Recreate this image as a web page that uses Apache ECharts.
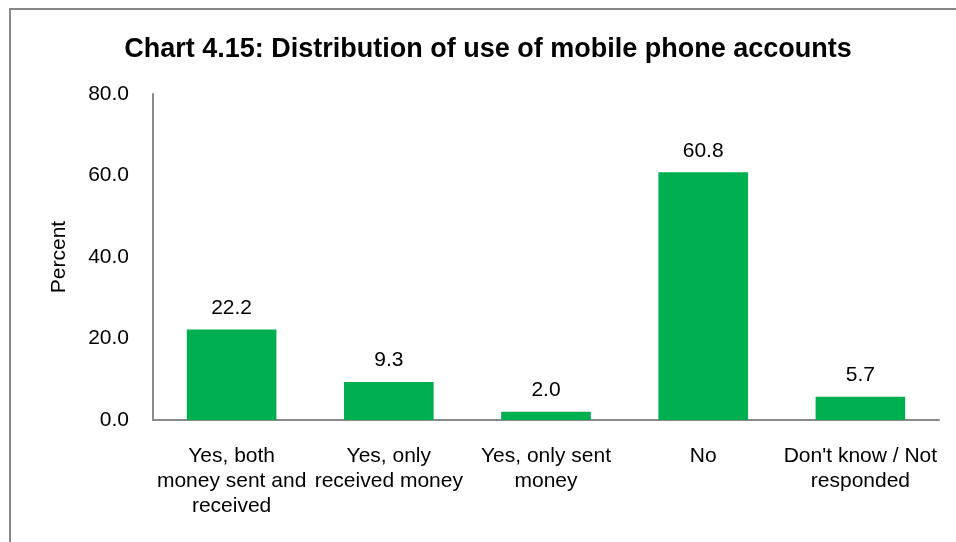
<!DOCTYPE html>
<html>
<head>
<meta charset="utf-8">
<style>
  html, body { margin: 0; padding: 0; background: #ffffff; }
  #chart { width: 956px; height: 542px; }
</style>
<script src="https://cdn.jsdelivr.net/npm/echarts@6/dist/echarts.min.js"></script>
</head>
<body>
<div id="chart"></div>
<script>
// Categories of mobile phone account use
const categories = [
  'Yes, both\nmoney sent and\nreceived',
  'Yes, only\nreceived money',
  'Yes, only sent\nmoney',
  'No',
  "Don't know / Not\nresponded"
];
// Share of respondents, percent
const percentValues = [22.2, 9.3, 2.0, 60.8, 5.7];
// Y-axis ticks
const yTicks = [0, 20, 40, 60, 80];

const FONT = '"Liberation Sans", Arial, sans-serif';
const chart = echarts.init(document.getElementById('chart'), null, { renderer: 'canvas' });

chart.setOption({
  animation: false,
  backgroundColor: '#ffffff',
  textStyle: { fontFamily: FONT },
  graphic: [{
    type: 'rect',
    shape: { x: 10, y: 9, width: 980, height: 560 },
    style: { fill: 'none', stroke: '#878787', lineWidth: 2 },
    silent: true
  }],
  title: {
    text: 'Chart 4.15: Distribution of use of mobile phone accounts',
    left: 483,
    textAlign: 'center',
    top: 31,
    textStyle: { fontFamily: FONT, fontWeight: 'bold', fontSize: 27, color: '#000000' }
  },
  grid: { left: 153, right: 17, top: 94, bottom: 122, containLabel: false },
  xAxis: {
    type: 'category',
    data: categories,
    axisLine: { lineStyle: { color: '#898989', width: 2 } },
    axisTick: { show: false },
    axisLabel: {
      interval: 0,
      margin: 24,
      color: '#000000',
      fontFamily: FONT,
      fontSize: 21,
      lineHeight: 25
    }
  },
  yAxis: {
    type: 'value',
    min: yTicks[0],
    max: yTicks[yTicks.length - 1],
    interval: 20,
    name: 'Percent',
    nameLocation: 'middle',
    nameGap: 83,
    nameRotate: 90,
    nameTextStyle: { color: '#000000', fontFamily: FONT, fontSize: 21 },
    axisLine: { show: true, lineStyle: { color: '#898989', width: 2 } },
    axisTick: { show: false },
    splitLine: { show: false },
    axisLabel: {
      margin: 24,
      color: '#000000',
      fontFamily: FONT,
      fontSize: 21,
      formatter: v => v.toFixed(1)
    }
  },
  series: [{
    type: 'bar',
    data: percentValues,
    barCategoryGap: '43%',
    itemStyle: { color: '#00B050' },
    label: {
      show: true,
      position: 'top',
      distance: 11,
      color: '#000000',
      fontFamily: FONT,
      fontSize: 21,
      formatter: p => p.value.toFixed(1)
    }
  }]
});
</script>
</body>
</html>
